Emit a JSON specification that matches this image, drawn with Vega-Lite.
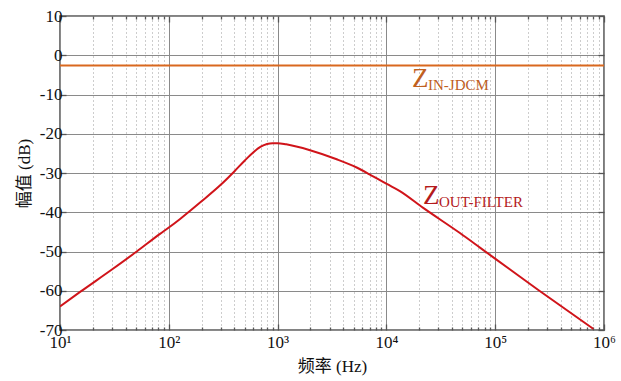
{
  "$schema": "https://vega.github.io/schema/vega-lite/v6.json",
  "width": 544,
  "height": 314,
  "autosize": "none",
  "padding": {"left": 60, "top": 16, "right": 17, "bottom": 51},
  "background": "white",
  "config": {
    "view": {"stroke": "#5a5a5a", "strokeWidth": 1.6},
    "font": "Liberation Serif",
    "axis": {"labelFont": "Liberation Serif", "titleFont": "Liberation Serif", "labelColor": "#111", "titleColor": "#111", "tickColor": "#555", "tickWidth": 1.3, "domain": false}
  },
  "datasets": {
    "zout": [
      {"f": 10, "dB": -64.0},
      {"f": 15.3, "dB": -60.3},
      {"f": 30, "dB": -54.6},
      {"f": 50.7, "dB": -50.0},
      {"f": 83, "dB": -45.5},
      {"f": 100, "dB": -43.9},
      {"f": 127, "dB": -41.7},
      {"f": 200, "dB": -37.2},
      {"f": 300, "dB": -33.0},
      {"f": 400, "dB": -29.6},
      {"f": 500, "dB": -26.8},
      {"f": 600, "dB": -24.7},
      {"f": 700, "dB": -23.3},
      {"f": 800, "dB": -22.6},
      {"f": 900, "dB": -22.4},
      {"f": 1000, "dB": -22.4},
      {"f": 1200, "dB": -22.7},
      {"f": 1986, "dB": -24.2},
      {"f": 3490, "dB": -26.5},
      {"f": 5330, "dB": -28.6},
      {"f": 7060, "dB": -30.4},
      {"f": 10070, "dB": -32.8},
      {"f": 13300, "dB": -34.6},
      {"f": 21800, "dB": -38.9},
      {"f": 47400, "dB": -45.3},
      {"f": 72400, "dB": -49.0},
      {"f": 137000, "dB": -54.6},
      {"f": 249000, "dB": -59.8},
      {"f": 798000, "dB": -69.7}
    ],
    "zin": [
      {"f": 10, "dB": -2.6},
      {"f": 1000000, "dB": -2.6}
    ],
    "labels": [
      {"name": "in", "f": 17200, "dB": -8.2, "z": "Z", "sub": "IN-JDCM"},
      {"name": "out", "f": 21700, "dB": -38.0, "z": "Z", "sub": "OUT-FILTER"}
    ]
  },
  "resolve": {"axis": {"x": "independent", "y": "independent"}},
  "layer": [
    {
      "data": {"name": "zout"},
      "mark": {"type": "line", "color": "#D0141A", "strokeWidth": 2, "interpolate": "monotone", "clip": true},
      "encoding": {
        "x": {
          "field": "f", "type": "quantitative",
          "scale": {"type": "log", "domain": [10, 1000000], "nice": false},
          "axis": {
            "orient": "bottom",
            "values": [10, 100, 1000, 10000, 100000, 1000000],
            "labelExpr": "datum.value==10?'10¹':datum.value==100?'10²':datum.value==1000?'10³':datum.value==10000?'10⁴':datum.value==100000?'10⁵':'10⁶'",
            "labelFont": "Liberation Serif",
            "labelFontSize": 17,
            "labelPadding": 10,
            "labelDx": 3,
            "labelFlush": false,
            "labelBaseline": "top",
            "grid": true, "gridColor": "#8a8a8a", "gridWidth": 1,
            "ticks": true, "tickSize": -6,
            "title": "频率 (Hz)",
            "titleFont": "'Liberation Serif', 'Noto Sans CJK SC'",
            "titleFontSize": 17,
            "titleFontWeight": "normal",
            "titlePadding": 8
          }
        },
        "y": {
          "field": "dB", "type": "quantitative",
          "scale": {"domain": [-70, 10], "nice": false, "zero": false},
          "axis": {
            "orient": "left",
            "values": [-70, -60, -50, -40, -30, -20, -10, 0, 10],
            "labelExpr": "datum.value + ''",
            "labelFont": "Liberation Serif",
            "labelFontSize": 17,
            "labelPadding": 4,
            "labelDy": 3,
            "labelFlush": false,
            "grid": true, "gridColor": "#8a8a8a", "gridWidth": 1,
            "ticks": true, "tickSize": -6,
            "title": "幅值 (dB)",
            "titleFont": "'Liberation Serif', 'Noto Sans CJK SC'",
            "titleFontSize": 17,
            "titleFontWeight": "normal",
            "titlePadding": 6
          }
        }
      }
    },
    {
      "data": {"name": "zin"},
      "mark": {"type": "line", "color": "#D9681F", "strokeWidth": 2},
      "encoding": {
        "x": {
          "field": "f", "type": "quantitative",
          "scale": {"type": "log", "domain": [10, 1000000], "nice": false},
          "axis": {
            "orient": "bottom",
            "values": [20,30,40,50,60,70,80,90,200,300,400,500,600,700,800,900,2000,3000,4000,5000,6000,7000,8000,9000,20000,30000,40000,50000,60000,70000,80000,90000,200000,300000,400000,500000,600000,700000,800000,900000],
            "labels": false,
            "grid": true, "gridColor": "#9a9a9a", "gridWidth": 1, "gridDash": [1, 3],
            "ticks": true, "tickSize": -3,
            "title": null
          }
        },
        "y": {
          "field": "dB", "type": "quantitative",
          "scale": {"domain": [-70, 10], "nice": false, "zero": false},
          "axis": {
            "orient": "right",
            "values": [-70, -60, -50, -40, -30, -20, -10, 0, 10],
            "labels": false, "grid": false,
            "ticks": true, "tickSize": -6,
            "title": null
          }
        }
      }
    },
    {
      "data": {"name": "labels"},
      "mark": {"type": "text", "align": "left", "baseline": "alphabetic", "fontSize": 27, "font": "Liberation Serif"},
      "encoding": {
        "x": {
          "field": "f", "type": "quantitative",
          "scale": {"type": "log", "domain": [10, 1000000], "nice": false},
          "axis": {
            "orient": "top",
            "values": [10, 100, 1000, 10000, 100000, 1000000],
            "labels": false, "grid": false,
            "ticks": true, "tickSize": -6,
            "title": null
          }
        },
        "y": {
          "field": "dB", "type": "quantitative",
          "scale": {"domain": [-70, 10], "nice": false, "zero": false},
          "axis": null
        },
        "text": {"field": "z"},
        "color": {"field": "name", "type": "nominal", "scale": {"domain": ["in", "out"], "range": ["#C0601F", "#B41A1C"]}, "legend": null}
      }
    },
    {
      "data": {"name": "labels"},
      "mark": {"type": "text", "align": "left", "baseline": "alphabetic", "fontSize": 15, "font": "Liberation Serif", "dx": 16, "dy": 2.5},
      "encoding": {
        "x": {
          "field": "f", "type": "quantitative",
          "scale": {"type": "log", "domain": [10, 1000000], "nice": false},
          "axis": {
            "orient": "top",
            "values": [20,30,40,50,60,70,80,90,200,300,400,500,600,700,800,900,2000,3000,4000,5000,6000,7000,8000,9000,20000,30000,40000,50000,60000,70000,80000,90000,200000,300000,400000,500000,600000,700000,800000,900000],
            "labels": false, "grid": false,
            "ticks": true, "tickSize": -3,
            "title": null
          }
        },
        "y": {
          "field": "dB", "type": "quantitative",
          "scale": {"domain": [-70, 10], "nice": false, "zero": false},
          "axis": null
        },
        "text": {"field": "sub"},
        "color": {"field": "name", "type": "nominal", "scale": {"domain": ["in", "out"], "range": ["#C0601F", "#B41A1C"]}, "legend": null}
      }
    }
  ]
}
